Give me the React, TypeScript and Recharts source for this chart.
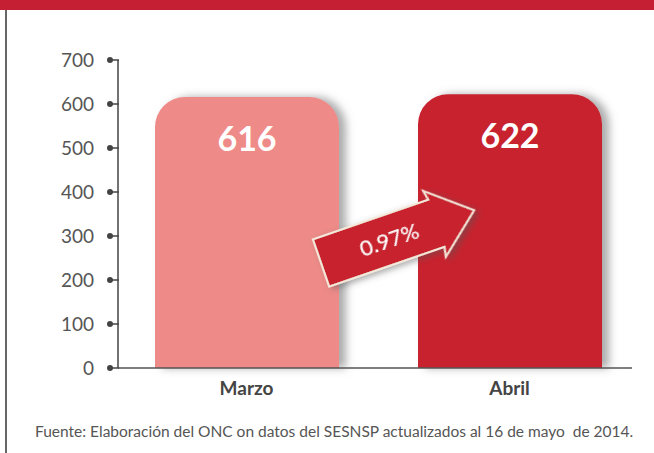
import { BarChart, Bar, XAxis, YAxis, Cell, LabelList } from "recharts";

const months = ["Marzo", "Abril"];
const totals = [616, 622];
const barColors = ["#EE8B88", "#C8202F"];
const yTicks = [0, 100, 200, 300, 400, 500, 600, 700];
const changeLabel = "0.97%";
const source =
  "Fuente: Elaboración del ONC on datos del SESNSP actualizados al 16 de mayo  de 2014.";

const data = months.map((m, i) => ({ name: m, value: totals[i] }));

const FONT = "Lato, 'Open Sans', sans-serif";

const YTick = (props: any) => {
  const { x, y, payload } = props;
  return (
    <g>
      <line x1={x} y1={y} x2={x + 9} y2={y} stroke="#444" strokeWidth={1.5} />
      <circle cx={x} cy={y} r={3} fill="#444" />
      <text
        x={x - 16}
        y={y}
        dy={7}
        textAnchor="end"
        fontSize={19}
        fill="#555"
        fontFamily={FONT}
      >
        {payload.value}
      </text>
    </g>
  );
};

const XTick = (props: any) => {
  const { x, y, payload } = props;
  return (
    <text
      x={x}
      y={y}
      dy={19}
      textAnchor="middle"
      fontSize={19}
      fontWeight="bold"
      fill="#444"
      fontFamily={FONT}
    >
      {payload.value}
    </text>
  );
};

// decorative growth arrow between the two bars, drawn on top of the chart
const Arrow = () => (
  <svg
    width={654}
    height={453}
    style={{ position: "absolute", left: 0, top: 0, pointerEvents: "none" }}
  >
    <defs>
      <filter id="arrowShadow" x="-20%" y="-30%" width="150%" height="170%">
        <feDropShadow dx={3} dy={3} stdDeviation={3} floodColor="#555" floodOpacity={0.5} />
      </filter>
    </defs>
    <g transform="translate(321,263) rotate(-19)" filter="url(#arrowShadow)">
      <polygon
        points="0,-25 122,-25 120,-35 162,0 120,35 122,25 0,25"
        fill="#C8202F"
        stroke="#F4E8DA"
        strokeWidth={2}
      />
      <text
        x={72}
        y={0}
        dy={8}
        textAnchor="middle"
        fontSize={22}
        fill="#fff"
        fontFamily={FONT}
      >
        {changeLabel}
      </text>
    </g>
  </svg>
);

export default function App() {
  return (
    <div
      style={{
        position: "absolute",
        left: 0,
        top: 0,
        width: 654,
        height: 453,
        background: "#fff",
        overflow: "hidden",
      }}
    >
      <div
        style={{
          position: "absolute",
          left: 0,
          top: 0,
          width: 654,
          height: 10,
          background: "#C41F32",
        }}
      />
      <div
        style={{
          position: "absolute",
          left: 5,
          top: 10,
          width: 2,
          height: 443,
          background: "#666",
        }}
      />
      <BarChart
        width={654}
        height={453}
        data={data}
        margin={{ top: 60, right: 22, bottom: 55, left: 18 }}
        barCategoryGap={0}
      >
        <defs>
          <filter id="barShadow" x="-20%" y="-20%" width="150%" height="140%">
            <feDropShadow dx={7} dy={0} stdDeviation={4} floodColor="#666" floodOpacity={0.55} />
          </filter>
        </defs>
        <XAxis
          dataKey="name"
          height={30}
          axisLine={{ stroke: "#555", strokeWidth: 1.5 }}
          tickLine={false}
          tick={<XTick />}
          padding={{ left: -3, right: -9 }}
        />
        <YAxis
          width={100}
          domain={[0, 700]}
          ticks={yTicks}
          axisLine={{ stroke: "#444", strokeWidth: 1.5 }}
          tickLine={false}
          tick={<YTick />}
          interval={0}
        />
        <Bar
          dataKey="value"
          barSize={184}
          radius={[30, 30, 0, 0]}
          isAnimationActive={false}
          filter="url(#barShadow)"
        >
          {data.map((d, i) => (
            <Cell key={d.name} fill={barColors[i]} />
          ))}
          <LabelList
            dataKey="value"
            position="insideTop"
            offset={30}
            fill="#fff"
            fontSize={34}
            fontWeight="bold"
            fontFamily={FONT}
          />
        </Bar>
      </BarChart>
      <Arrow />
      <div
        style={{
          position: "absolute",
          left: 35,
          top: 422,
          fontFamily: FONT,
          fontSize: 15.5,
          color: "#555",
          whiteSpace: "pre",
        }}
      >
        {source}
      </div>
    </div>
  );
}
